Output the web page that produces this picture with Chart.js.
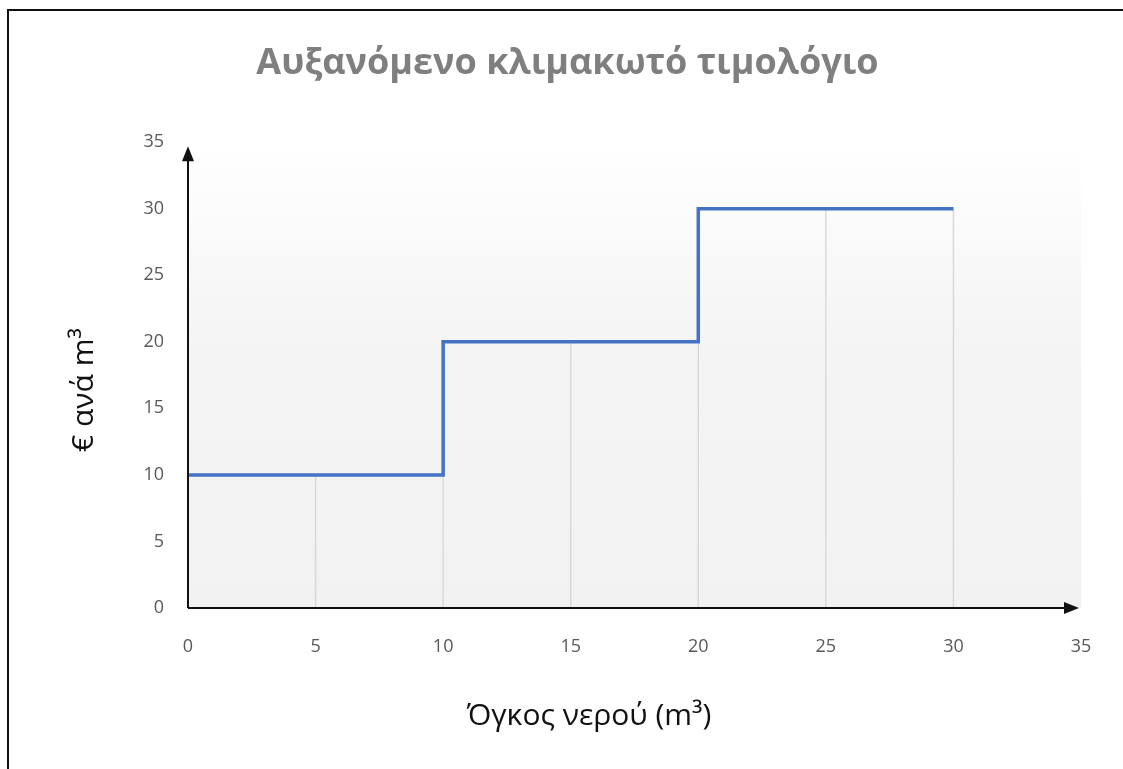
<!DOCTYPE html>
<html>
<head>
<meta charset="utf-8">
<script src="https://cdn.jsdelivr.net/npm/chart.js@4.4.0/dist/chart.umd.min.js"></script>
<style>
  html, body { margin: 0; padding: 0; background: #fff; overflow: hidden; }
  #wrap { position: relative; width: 1123px; height: 769px; }
  #frame { position: absolute; left: 7px; top: 9px; width: 1200px; height: 800px;
           border-top: 2px solid #111; border-left: 2px solid #111; pointer-events: none; }
</style>
</head>
<body>
<div id="wrap">
  <canvas id="tariffChart" width="1123" height="769"></canvas>
  <div id="frame"></div>
</div>
<script>
// step boundaries (m3) and price per m3 within each step
const volumeBreaks = [0, 10, 20, 30];
const pricePerStep = [10, 20, 30];
const xTicks = [0, 5, 10, 15, 20, 25, 30, 35];
const yTicks = [0, 5, 10, 15, 20, 25, 30, 35];

const chartTitle = 'Αυξανόμενο κλιμακωτό τιμολόγιο';
const xTitle = 'Όγκος νερού (m³)';
const yTitle = '€ ανά m³';

const FONT = "'Open Sans', 'DejaVu Sans', sans-serif";
const LEFT_EDGE = 188;
const BOTTOM_EDGE = 608;

// points for the stepped line: each break with the price that starts there
const stepPoints = volumeBreaks.map((x, i) => ({
    x: x,
    y: pricePerStep[Math.min(i, pricePerStep.length - 1)]
}));

function priceAt(x) {
    let v = pricePerStep[0];
    volumeBreaks.forEach((b, i) => {
        if (b < x && i < pricePerStep.length) v = pricePerStep[i];
    });
    return v;
}

const backgroundPlugin = {
    id: 'plotBackground',
    beforeDatasetsDraw(chart) {
        const { ctx, chartArea: a, scales } = chart;
        const g = ctx.createLinearGradient(0, a.top, 0, a.bottom);
        g.addColorStop(0, '#ffffff');
        g.addColorStop(0.45, '#f4f4f4');
        g.addColorStop(1, '#f2f2f2');
        ctx.save();
        ctx.fillStyle = g;
        ctx.fillRect(a.left, a.top, a.right - a.left, a.bottom - a.top);

        // drop lines from the axis up to the tariff at each tick
        ctx.strokeStyle = '#d9d9d9';
        ctx.lineWidth = 1.5;
        const last = volumeBreaks[volumeBreaks.length - 1];
        xTicks.forEach(t => {
            if (t <= 0 || t > last) return;
            const px = scales.x.getPixelForValue(t);
            ctx.beginPath();
            ctx.moveTo(px, scales.y.getPixelForValue(0));
            ctx.lineTo(px, scales.y.getPixelForValue(priceAt(t)));
            ctx.stroke();
        });
        ctx.restore();
    }
};

const arrowAxesPlugin = {
    id: 'arrowAxes',
    afterDatasetsDraw(chart) {
        const { ctx, scales } = chart;
        const x0 = scales.x.getPixelForValue(0);
        const y0 = scales.y.getPixelForValue(0);
        const xEnd = scales.x.getPixelForValue(35) - 2;
        const yEnd = scales.y.getPixelForValue(35) + 4;
        ctx.save();
        ctx.strokeStyle = '#111';
        ctx.fillStyle = '#111';
        ctx.lineWidth = 2;
        ctx.beginPath();
        ctx.moveTo(x0, y0);
        ctx.lineTo(xEnd - 10, y0);
        ctx.moveTo(x0, y0);
        ctx.lineTo(x0, yEnd + 10);
        ctx.stroke();
        ctx.beginPath();
        ctx.moveTo(xEnd, y0);
        ctx.lineTo(xEnd - 15, y0 - 6);
        ctx.lineTo(xEnd - 15, y0 + 6);
        ctx.closePath();
        ctx.fill();
        ctx.beginPath();
        ctx.moveTo(x0, yEnd);
        ctx.lineTo(x0 - 6, yEnd + 15);
        ctx.lineTo(x0 + 6, yEnd + 15);
        ctx.closePath();
        ctx.fill();

        // axis titles, placed like the original (x title sits left of centre)
        ctx.fillStyle = '#111';
        ctx.font = '30px ' + FONT;
        ctx.textAlign = 'center';
        ctx.textBaseline = 'middle';
        ctx.fillText(xTitle, 589, 716);
        ctx.translate(84, 390);
        ctx.rotate(-Math.PI / 2);
        ctx.fillText(yTitle, 0, 0);
        ctx.restore();
    }
};

new Chart(document.getElementById('tariffChart'), {
    type: 'scatter',
    data: {
        datasets: [{
            label: 'Τιμή',
            data: stepPoints,
            showLine: true,
            stepped: 'before',
            borderColor: '#4472c4',
            borderWidth: 3.5,
            pointRadius: 0,
            fill: false
        }]
    },
    options: {
        responsive: false,
        animation: false,
        layout: { padding: { left: 54, right: 42, top: 0, bottom: 30 } },
        plugins: {
            legend: { display: false },
            tooltip: { enabled: false },
            title: {
                display: true,
                text: chartTitle,
                color: '#7f7f7f',
                font: { family: FONT, size: 36, weight: 'bold' },
                padding: { top: 42, bottom: 57 }
            }
        },
        scales: {
            x: {
                type: 'linear',
                min: 0,
                max: 35,
                afterBuildTicks: s => { s.ticks = xTicks.map(v => ({ value: v })); },
                afterFit: s => { s.height = 769 - 30 - BOTTOM_EDGE; },
                grid: { display: false, drawTicks: false },
                border: { display: false },
                ticks: {
                    color: '#595959',
                    font: { family: FONT, size: 18 },
                    padding: 28,
                    maxRotation: 0
                }
            },
            y: {
                type: 'linear',
                min: 0,
                max: 35,
                afterBuildTicks: s => { s.ticks = yTicks.map(v => ({ value: v })); },
                afterFit: s => { s.width = LEFT_EDGE - 54; },
                grid: { display: false, drawTicks: false },
                border: { display: false },
                ticks: {
                    color: '#595959',
                    font: { family: FONT, size: 18 },
                    padding: 24
                }
            }
        }
    },
    plugins: [backgroundPlugin, arrowAxesPlugin]
});
</script>
</body>
</html>
